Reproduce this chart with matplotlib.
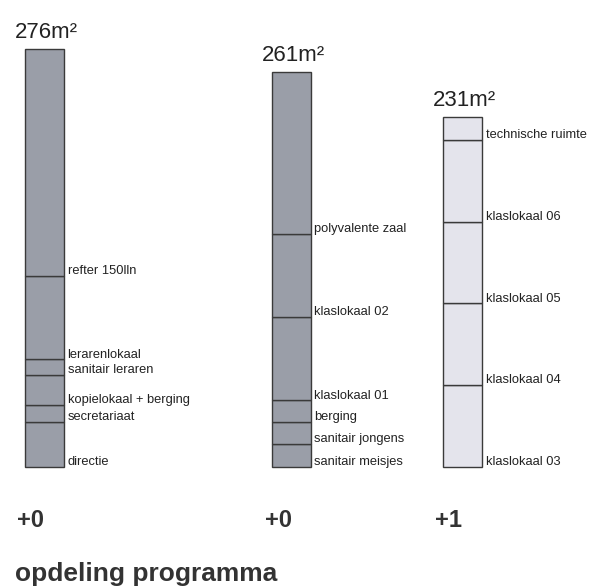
import matplotlib.pyplot as plt

# room areas (m2), listed top to bottom for every block
rooms_a = ['refter 150lln', 'lerarenlokaal', 'sanitair leraren', 'kopielokaal + berging', 'secretariaat', 'directie']
area_a = [150, 55, 10, 20, 11, 30]

rooms_b = ['polyvalente zaal', 'klaslokaal 02', 'klaslokaal 01', 'berging', 'sanitair jongens', 'sanitair meisjes']
area_b = [107, 55, 55, 14, 15, 15]

rooms_c = ['technische ruimte', 'klaslokaal 06', 'klaslokaal 05', 'klaslokaal 04', 'klaslokaal 03']
area_c = [15, 54, 54, 54, 54]

levels = ['+0', '+0', '+1']
bar_colors = ['#9a9ea8', '#9a9ea8', '#e4e4ec']

blocks = [(rooms_a, area_a), (rooms_b, area_b), (rooms_c, area_c)]
xpos = [44, 291, 462]
w = 39
fam = ['Liberation Sans', 'DejaVu Sans']

fig = plt.figure(figsize=(5.91, 5.88), dpi=100)
ax = fig.add_axes([0, 0, 1, 1])
ax.set_xlim(0, 591)
ax.set_ylim(-79.9, 308.3)
ax.axis('off')

for i, (rooms, area) in enumerate(blocks):
    x = xpos[i]
    b = 0
    # stack from the bottom up
    for name, h in zip(rooms[::-1], area[::-1]):
        ax.bar(x, h, bottom=b, width=w, color=bar_colors[i], edgecolor='#3a3a3a', linewidth=1.0)
        ax.text(x + w/2 + 4, b + 1.2, name, fontsize=9.3, family=fam,
                color='#222222', va='baseline', ha='left')
        b += h
    ax.text(x + 2, b + 7, '%dm²' % sum(area), fontsize=16, family=fam,
            color='#222222', va='baseline', ha='center')
    ax.text(x - w/2 - 7, -39.6, levels[i], fontsize=17, fontweight='bold',
            family=fam, color='#333333', va='baseline', ha='left')

ax.text(15, -75, 'opdeling programma', fontsize=19, fontweight='bold',
        family=fam, color='#333333', va='baseline', ha='left')

plt.savefig('out.png', dpi=100)
